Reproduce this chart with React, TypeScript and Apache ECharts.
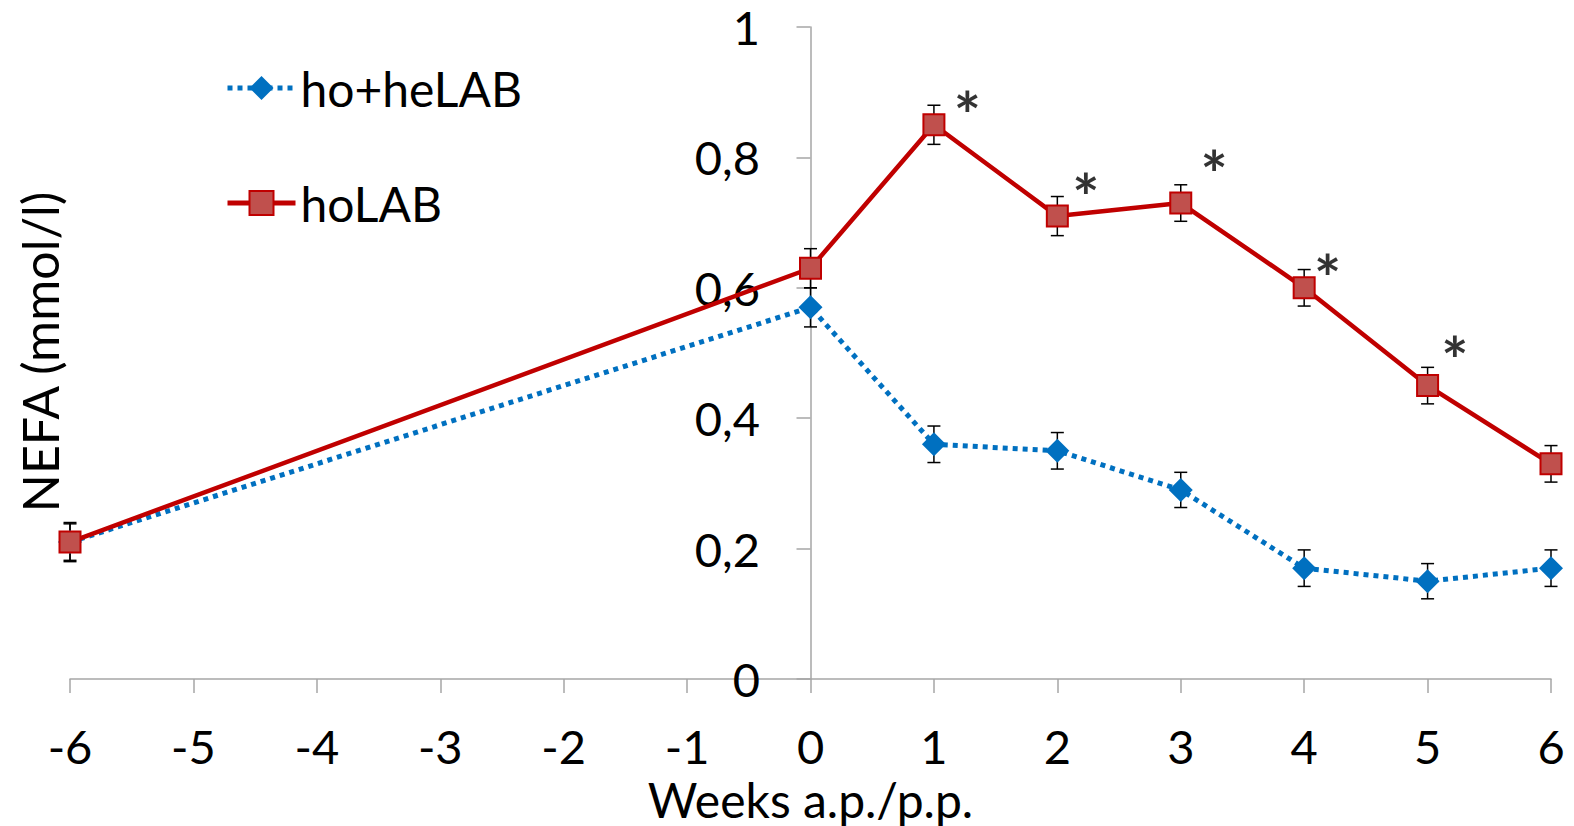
import React, { useEffect, useRef } from "react";
import * as echarts from "echarts";

const weeks = [-6, 0, 1, 2, 3, 4, 5, 6];
const hoheLAB = [0.21, 0.57, 0.36, 0.35, 0.29, 0.17, 0.15, 0.17];
const hoheLABErr = [0.03, 0.03, 0.028, 0.028, 0.027, 0.028, 0.027, 0.028];
const hoLAB = [0.21, 0.63, 0.85, 0.71, 0.73, 0.6, 0.45, 0.33];
const hoLABErr = [0.028, 0.03, 0.03, 0.03, 0.028, 0.028, 0.028, 0.028];
const starWeeks = [1.27, 2.23, 3.27, 4.19, 5.22];
const starValues = [0.885, 0.76, 0.795, 0.635, 0.51];
const yTicks = [0, 0.2, 0.4, 0.6, 0.8, 1];

const FONT = "Lato, 'Open Sans', sans-serif";

export default function App() {
  const ref = useRef<HTMLDivElement>(null);
  useEffect(() => {
    if (!ref.current) return;
    const chart = echarts.init(ref.current, null, { renderer: "svg" });
    const errData = (vals: number[], errs: number[]) =>
      weeks.map((w, i) => [w, vals[i], errs[i]]);
    const errSeries = (name: string, vals: number[], errs: number[]) => ({
      type: "custom",
      name: name + "-err",
      z: 1,
      silent: true,
      data: errData(vals, errs),
      renderItem: (params: any, api: any) => {
        const x = api.value(0);
        const v = api.value(1);
        const e = api.value(2);
        const top = api.coord([x, v + e]);
        const bot = api.coord([x, v - e]);
        const hw = 6.5;
        const style = { stroke: "#000", lineWidth: 1.5 };
        return {
          type: "group",
          children: [
            { type: "line", shape: { x1: top[0], y1: top[1], x2: bot[0], y2: bot[1] }, style },
            { type: "line", shape: { x1: top[0] - hw, y1: top[1], x2: top[0] + hw, y2: top[1] }, style },
            { type: "line", shape: { x1: bot[0] - hw, y1: bot[1], x2: bot[0] + hw, y2: bot[1] }, style },
          ],
        };
      },
    });
    chart.setOption({
      animation: false,
      backgroundColor: "#fff",
      grid: { left: 70, right: 23, top: 27, bottom: 147, containLabel: false, outerBoundsMode: "none" },
      legend: {
        data: ["ho+heLAB", "hoLAB"],
        orient: "vertical",
        left: 220,
        top: 59,
        itemWidth: 68,
        itemHeight: 30,
        itemGap: 67,
        lineStyle: { width: 5 },
        textStyle: { fontFamily: FONT, fontSize: 48, color: "#000" },
      },
      xAxis: {
        type: "value",
        min: -6,
        max: 6,
        interval: 1,
        name: "Weeks a.p./p.p.",
        nameLocation: "middle",
        nameGap: 96,
        nameTextStyle: { fontFamily: FONT, fontSize: 48, lineHeight: 48, color: "#000" },
        axisLine: { onZero: false, lineStyle: { color: "#a6a6a6", width: 1.5 } },
        axisTick: { show: true, length: 14, lineStyle: { color: "#a6a6a6", width: 1.5 } },
        axisLabel: { fontFamily: FONT, fontSize: 47, color: "#000", margin: 43 },
        splitLine: { show: false },
      },
      yAxis: {
        type: "value",
        min: 0,
        max: 1,
        interval: 0.2,
        axisLine: { show: true, onZero: true, lineStyle: { color: "#a6a6a6", width: 1.5 } },
        axisTick: { show: true, length: 14, lineStyle: { color: "#a6a6a6", width: 1.5 } },
        axisLabel: {
          fontFamily: FONT,
          fontSize: 47,
          lineHeight: 50,
          color: "#000",
          margin: -690,
          formatter: (v: number) => {
            const t = yTicks.find((y) => Math.abs(y - v) < 1e-6);
            return String(t !== undefined ? t : v).replace(".", ",");
          },
        },
        splitLine: { show: false },
      },
      graphic: [
        {
          type: "text",
          x: 40,
          y: 352,
          rotation: Math.PI / 2,
          style: {
            text: "NEFA (mmol/l)",
            fontFamily: FONT,
            fontSize: 50,
            fill: "#000",
            textAlign: "center",
            textVerticalAlign: "middle",
          },
        },
      ],
      series: [
        errSeries("ho+heLAB", hoheLAB, hoheLABErr),
        errSeries("hoLAB", hoLAB, hoLABErr),
        {
          type: "line",
          name: "ho+heLAB",
          z: 3,
          data: weeks.map((w, i) => [w, hoheLAB[i]]),
          symbol: "diamond",
          symbolSize: 24,
          itemStyle: { color: "#0070c0" },
          lineStyle: { color: "#0070c0", width: 5, type: [5, 5] },
        },
        {
          type: "line",
          name: "hoLAB",
          z: 4,
          data: weeks.map((w, i) => [w, hoLAB[i]]),
          symbol: "rect",
          symbolSize: 21,
          itemStyle: { color: "#c0504d", borderColor: "#c00000", borderWidth: 2 },
          lineStyle: { color: "#c00000", width: 4.5 },
        },
        {
          type: "scatter",
          name: "stars",
          z: 5,
          silent: true,
          symbolSize: 1,
          itemStyle: { color: "transparent" },
          data: starWeeks.map((w, i) => [w, starValues[i]]),
          label: {
            show: true,
            position: "inside",
            formatter: "*",
            fontFamily: FONT,
            fontSize: 64,
            fontWeight: "bold",
            color: "#000",
            offset: [0, 13],
          },
        },
      ],
    });
    return () => chart.dispose();
  }, []);
  return (
    <div
      ref={ref}
      style={{ position: "absolute", left: 0, top: 0, width: 1574, height: 826 }}
    />
  );
}
